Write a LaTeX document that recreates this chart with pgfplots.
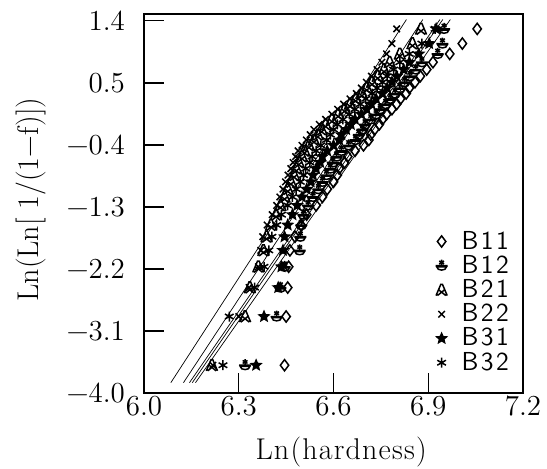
\documentclass[border=0pt]{standalone}
\usepackage{fontspec}
\usepackage{pgfplots}
\usepackage{pgfplotstable}
\pgfplotsset{compat=1.18}
\usetikzlibrary{plotmarks}

% marks of the scanned plot
\pgfdeclareplotmark{boat}{%
  \pgfpathmoveto{\pgfqpoint{-\pgfplotmarksize}{0pt}}%
  \pgfpathlineto{\pgfqpoint{\pgfplotmarksize}{0pt}}%
  \pgfpathmoveto{\pgfqpoint{0pt}{0.1\pgfplotmarksize}}%
  \pgfpathlineto{\pgfqpoint{0pt}{1.0\pgfplotmarksize}}%
  \pgfpathmoveto{\pgfqpoint{-0.4\pgfplotmarksize}{0.3\pgfplotmarksize}}%
  \pgfpathlineto{\pgfqpoint{0.4\pgfplotmarksize}{0.8\pgfplotmarksize}}%
  \pgfpathmoveto{\pgfqpoint{-0.4\pgfplotmarksize}{0.8\pgfplotmarksize}}%
  \pgfpathlineto{\pgfqpoint{0.4\pgfplotmarksize}{0.3\pgfplotmarksize}}%
  \pgfpathmoveto{\pgfqpoint{-0.8\pgfplotmarksize}{-0.2\pgfplotmarksize}}%
  \pgfpathcurveto{\pgfqpoint{-0.8\pgfplotmarksize}{-0.9\pgfplotmarksize}}%
    {\pgfqpoint{0.8\pgfplotmarksize}{-0.9\pgfplotmarksize}}%
    {\pgfqpoint{0.8\pgfplotmarksize}{-0.2\pgfplotmarksize}}%
  \pgfpathclose
  \pgfusepathqstroke}
\pgfdeclareplotmark{atri}{%
  \pgfpathmoveto{\pgfqpoint{-\pgfplotmarksize}{-\pgfplotmarksize}}%
  \pgfpathlineto{\pgfqpoint{-0.15\pgfplotmarksize}{\pgfplotmarksize}}%
  \pgfpathlineto{\pgfqpoint{0.15\pgfplotmarksize}{\pgfplotmarksize}}%
  \pgfpathlineto{\pgfqpoint{\pgfplotmarksize}{-\pgfplotmarksize}}%
  \pgfpathmoveto{\pgfqpoint{-0.55\pgfplotmarksize}{0.05\pgfplotmarksize}}%
  \pgfpathlineto{\pgfqpoint{0.75\pgfplotmarksize}{-\pgfplotmarksize}}%
  \pgfpathmoveto{\pgfqpoint{0.55\pgfplotmarksize}{0.05\pgfplotmarksize}}%
  \pgfpathlineto{\pgfqpoint{-0.75\pgfplotmarksize}{-\pgfplotmarksize}}%
  \pgfusepathqstroke}
\pgfdeclareplotmark{fstar}{%
  \pgfpathmoveto{\pgfpointpolar{90}{\pgfplotmarksize}}%
  \pgfpathlineto{\pgfpointpolar{126}{0.45\pgfplotmarksize}}%
  \pgfpathlineto{\pgfpointpolar{162}{\pgfplotmarksize}}%
  \pgfpathlineto{\pgfpointpolar{198}{0.45\pgfplotmarksize}}%
  \pgfpathlineto{\pgfpointpolar{234}{\pgfplotmarksize}}%
  \pgfpathlineto{\pgfpointpolar{270}{0.45\pgfplotmarksize}}%
  \pgfpathlineto{\pgfpointpolar{306}{\pgfplotmarksize}}%
  \pgfpathlineto{\pgfpointpolar{342}{0.45\pgfplotmarksize}}%
  \pgfpathlineto{\pgfpointpolar{18}{\pgfplotmarksize}}%
  \pgfpathlineto{\pgfpointpolar{54}{0.45\pgfplotmarksize}}%
  \pgfpathclose
  \pgfusepathqfillstroke}

\newcommand\ticklab{\fontsize{14.5}{15}\selectfont}
\newcommand\lablab{\fontsize{15}{16}\selectfont}
\newcommand\leglab{\sffamily\fontsize{13}{14}\selectfont}
\newcommand\B[2]{B\kern1.2pt#1\kern1.2pt#2}

% y = ln(ln(1/(1-f))), f = i/37 ; x = ln(hardness) per sample
\pgfplotstableread{
y      b11   b12   b21   b22   b31   b32
-3.597 6.445 6.320 6.215 6.218 6.355 6.250
-2.890 6.450 6.420 6.320 6.300 6.380 6.270
-2.470 6.455 6.432 6.335 6.333 6.425 6.350
-2.168 6.458 6.445 6.362 6.362 6.435 6.380
-1.930 6.462 6.493 6.378 6.370 6.440 6.395
-1.732 6.478 6.495 6.388 6.376 6.445 6.405
-1.562 6.497 6.498 6.402 6.390 6.455 6.420
-1.412 6.515 6.505 6.418 6.406 6.470 6.435
-1.278 6.545 6.520 6.432 6.420 6.485 6.455
-1.155 6.565 6.535 6.445 6.430 6.500 6.470
-1.042 6.580 6.552 6.455 6.440 6.515 6.482
-0.936 6.600 6.565 6.465 6.448 6.528 6.495
-0.837 6.612 6.578 6.475 6.456 6.535 6.505
-0.744 6.618 6.590 6.482 6.465 6.545 6.512
-0.654 6.635 6.598 6.490 6.472 6.558 6.525
-0.569 6.645 6.610 6.500 6.480 6.565 6.532
-0.486 6.668 6.625 6.508 6.488 6.580 6.545
-0.406 6.695 6.648 6.522 6.500 6.600 6.560
-0.328 6.712 6.670 6.538 6.514 6.618 6.578
-0.251 6.718 6.680 6.550 6.526 6.625 6.590
-0.176 6.730 6.692 6.562 6.538 6.640 6.600
-0.102 6.745 6.700 6.575 6.555 6.655 6.612
-0.029 6.755 6.718 6.595 6.575 6.668 6.630
 0.045 6.768 6.735 6.615 6.595 6.688 6.650
 0.119 6.785 6.748 6.635 6.613 6.705 6.668
 0.193 6.800 6.765 6.652 6.632 6.720 6.685
 0.269 6.812 6.780 6.670 6.652 6.735 6.702
 0.346 6.830 6.795 6.690 6.672 6.755 6.722
 0.426 6.840 6.810 6.705 6.688 6.770 6.738
 0.510 6.858 6.825 6.722 6.704 6.785 6.755
 0.598 6.875 6.842 6.740 6.720 6.800 6.770
 0.694 6.895 6.860 6.760 6.738 6.822 6.790
 0.800 6.915 6.880 6.778 6.753 6.840 6.810
 0.921 6.968 6.930 6.810 6.768 6.870 6.840
 1.071 7.008 6.945 6.850 6.785 6.903 6.880
 1.284 7.055 6.950 6.877 6.800 6.925 6.922
}\hard

\begin{document}
\begin{tikzpicture}
\useasboundingbox (0,0) rectangle (273.5pt,234pt);
\begin{axis}[
    at={(72pt,37.5pt)}, anchor=south west,
    scale only axis, width=189.5pt, height=189.5pt,
    xmin=6.0, xmax=7.2, ymin=-4.0, ymax=1.5,
    xtick={6.0,6.3,6.6,6.9,7.2},
    xticklabels={6.0,6.3,6.6,6.9,7.2},
    ytick={-4.0,-3.1,-2.2,-1.3,-0.4,0.5,1.4},
    yticklabels={−4.0,−3.1,−2.2,−1.3,−0.4,0.5,1.4},
    tick align=inside, major tick length=10pt,
    xtick pos=left, ytick pos=left,
    axis line style={line width=0.8pt},
    every tick/.style={black, line width=0.6pt},
    xticklabel style={font=\ticklab, yshift=2pt},
    yticklabel style={font=\ticklab, xshift=-6pt},
    xlabel={L\kern.6pt n\kern.6pt(\kern.6pt h\kern.6pt a\kern.6pt r\kern.6pt d\kern.6pt n\kern.6pt e\kern.6pt s\kern.6pt s\kern.6pt)},
    ylabel={Ln(Ln[ 1/(1−f)])},
    xlabel style={font=\lablab, at={([yshift=-33pt]axis description cs:0.52,0)}, anchor=base},
    ylabel style={font=\lablab, at={([xshift=-52.5pt]axis description cs:0,0.51)}, anchor=base},
    legend style={draw=none, fill=none, font=\leglab,
        at={(0.99,0.03)}, anchor=south east, row sep=-2.4pt,
        /tikz/every odd column/.append style={column sep=5pt}},
    legend cell align=left,
    every axis plot/.append style={black, line width=0.75pt},
]
\addplot[only marks, mark=diamond, mark size=2.8pt] table[x=b11, y=y] {\hard};
\addlegendentry{\B11}
\addplot[only marks, mark=boat, mark size=3pt] table[x=b12, y=y] {\hard};
\addlegendentry{\B12}
\addplot[only marks, mark=atri, mark size=2.8pt] table[x=b21, y=y] {\hard};
\addlegendentry{\B21}
\addplot[only marks, mark=x, mark size=2.3pt] table[x=b22, y=y] {\hard};
\addlegendentry{\B22}
\addplot[only marks, mark=fstar, mark size=2.5pt] table[x=b31, y=y] {\hard};
\addlegendentry{\B31}
\addplot[only marks, mark=asterisk, mark size=2.5pt] table[x=b32, y=y] {\hard};
\addlegendentry{\B32}

% fitted Weibull lines
\addplot[line width=0.35pt, no marks, forget plot] coordinates {(6.085,-3.85) (6.831,1.42)};
\addplot[line width=0.35pt, no marks, forget plot] coordinates {(6.125,-3.85) (6.883,1.42)};
\addplot[line width=0.35pt, no marks, forget plot] coordinates {(6.144,-3.85) (6.937,1.42)};
\addplot[line width=0.35pt, no marks, forget plot] coordinates {(6.153,-3.85) (6.946,1.42)};
\addplot[line width=0.35pt, no marks, forget plot] coordinates {(6.163,-3.85) (6.970,1.42)};
\end{axis}
\end{tikzpicture}
\end{document}
